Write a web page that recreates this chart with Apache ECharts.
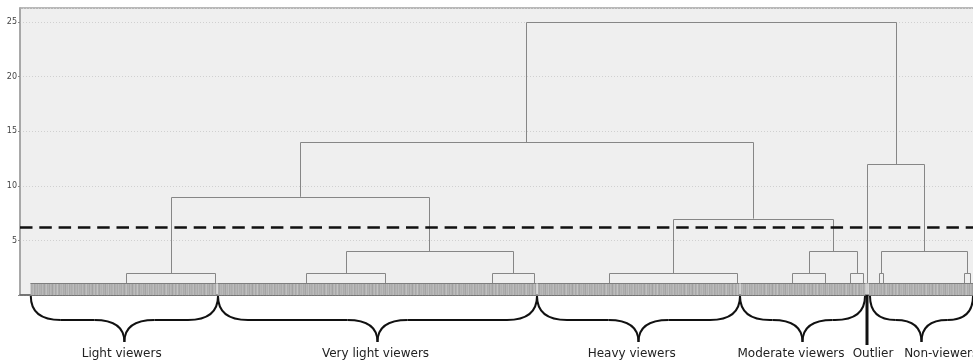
<!DOCTYPE html>
<html><head><meta charset="utf-8">
<script src="https://cdn.jsdelivr.net/npm/echarts@6/dist/echarts.min.js"></script>
<style>html,body{margin:0;padding:0;background:#fff}#c{width:973px;height:364px}</style>
</head><body><div id="c"></div>
<script>
// ---- DATA (x in leaf-order units, y = linkage distance) ----
// base cluster nodes at the bottom of the tree
const leafNodeX = [48, 92.5, 138, 177.5, 231, 252, 289.5, 353.5, 381, 397.5, 410, 416.5, 418.5, 424.5, 426.5, 467, 470];
const leafNodeHeight = 1.1;
// merges: ids 0..16 are base nodes, merge i creates node 17+i
const mergeLeft   = [0, 2, 4, 18, 17, 6, 8, 10, 23, 22, 21, 13, 15, 28, 12, 27];
const mergeRight  = [1, 3, 5, 19, 20, 7, 9, 11, 24, 25, 26, 14, 16, 29, 30, 31];
const mergeHeight = [2, 2, 2, 4, 9, 2, 2, 2, 4, 7, 14, 2, 2, 4, 12, 25];
// leaf band segments
const bandStart = [0, 93.5, 253.5, 355, 418, 419];
const bandEnd   = [93.5, 253.5, 355, 418, 419, 474];
// cluster annotations
const clusterNames = ['Light viewers', 'Very light viewers', 'Heavy viewers', 'Moderate viewers', 'Outlier', 'Non-viewers'];
const labelX = [45.85, 172.75, 300.85, 380.5, 421.5, 455.6];
const braceStart = [0.4, 94, 253.5, 355, 420];
const braceEnd   = [94, 253.5, 355, 417.5, 471.5];
const outlierX = [418.5];
const yTickValues = [5, 10, 15, 20, 25];
const cutHeight = 6.2;

// ---- build tree links ----
const nodeX = leafNodeX.slice();
const nodeH = leafNodeX.map(() => leafNodeHeight);
const links = [];
mergeLeft.forEach((l, i) => {
  const r = mergeRight[i];
  links.push([nodeX[l], nodeX[r], mergeHeight[i], nodeH[l], nodeH[r]]);
  nodeX.push((nodeX[l] + nodeX[r]) / 2);
  nodeH.push(mergeHeight[i]);
});

// texture for leaf band
const tex = document.createElement('canvas');
tex.width = 40; tex.height = 4;
const tctx = tex.getContext('2d');
const shades = [178,170,186,174,164,182,192,172,180,166,184,176,162,180,188,168,178,194,172,166,182,176,186,170,178,164,184,174,190,168,180,172,178,188,166,176,182,170,186,174];
shades.forEach((s, i) => { tctx.fillStyle = 'rgb(' + s + ',' + s + ',' + s + ')'; tctx.fillRect(i, 0, 1, 4); });

const snap = v => Math.round(v) + 0.5;
const FONT = '"DejaVu Sans", sans-serif';

const chart = echarts.init(document.getElementById('c'), null, {renderer: 'canvas'});
chart.setOption({
  animation: false,
  grid: {left: 20, top: 8, right: -3, bottom: 69, containLabel: false, outerBoundsMode: 'none',
         show: true, backgroundColor: '#efefef', borderColor: '#a3a3a3', borderWidth: 1.5},
  xAxis: {type: 'value', min: -5, max: 473, axisLabel: {show: false}, axisTick: {show: false}, splitLine: {show: false},
          axisLine: {show: true, onZero: false, lineStyle: {color: '#5f5f5f', width: 1.5}}},
  yAxis: {type: 'value', min: 0, max: 26.3, interval: 5,
          axisLine: {show: true, onZero: false, lineStyle: {color: '#a3a3a3', width: 1.5}},
          axisTick: {show: true, length: 2, lineStyle: {color: '#888'}},
          axisLabel: {fontSize: 8, color: '#444', margin: 3, fontFamily: FONT, showMaxLabel: false,
                      formatter: v => yTickValues.indexOf(v) >= 0 ? String(v) : ''},
          splitLine: {show: true, lineStyle: {color: '#d0d0d0', type: [1, 2], width: 1}}},
  series: [
    { // leaf band
      type: 'custom', silent: true, z: 2,
      data: bandStart.map((s, i) => [s, bandEnd[i], leafNodeHeight]),
      encode: {x: [0, 1], y: 2},
      renderItem: (p, api) => {
        const a = api.coord([api.value(0), api.value(2)]);
        const b = api.coord([api.value(1), 0]);
        const x0 = Math.round(a[0]) + 0.5, x1 = Math.round(b[0]) - 0.5;
        const yt = Math.round(a[1]);
        return {type: 'group', children: [
          {type: 'rect', shape: {x: x0, y: yt, width: x1 - x0, height: b[1] - yt}, style: {fill: {type: 'pattern', image: tex, repeat: 'repeat'}}},
          {type: 'line', shape: {x1: x0, y1: yt + 0.5, x2: x1, y2: yt + 0.5}, style: {stroke: '#7e7e7e', lineWidth: 1}}
        ]};
      }
    },
    { // dendrogram links
      type: 'custom', silent: true, z: 3,
      data: links,
      encode: {x: [0, 1], y: [2, 3, 4]},
      renderItem: (p, api) => {
        const a = api.coord([api.value(0), api.value(3)]);
        const b = api.coord([api.value(0), api.value(2)]);
        const c = api.coord([api.value(1), api.value(2)]);
        const d = api.coord([api.value(1), api.value(4)]);
        return {type: 'polyline', shape: {points: [[snap(a[0]), a[1]], [snap(b[0]), snap(b[1])], [snap(c[0]), snap(c[1])], [snap(d[0]), d[1]]]},
                style: {stroke: '#868686', lineWidth: 1, fill: null}};
      },
      markLine: {silent: true, symbol: 'none', label: {show: false}, z: 5,
                 lineStyle: {color: '#111', width: 2.5, type: [12.5, 6.8]},
                 data: [{yAxis: cutHeight}]}
    },
    { // braces
      type: 'custom', silent: true, clip: false, z: 4,
      data: braceStart.map((s, i) => [s, braceEnd[i]]),
      encode: {x: [0, 1]},
      renderItem: (p, api) => {
        const a = api.coord([api.value(0), 0]);
        const b = api.coord([api.value(1), 0]);
        const y0 = a[1] + 1, ym = y0 + 24, yt = y0 + 46;
        const x1 = a[0], x2 = b[0], xm = (x1 + x2) / 2;
        const half = (x2 - x1) / 2;
        const r1 = Math.min(30, half * 0.5), r2 = Math.min(30, half * 0.5);
        const st = {stroke: '#111', lineWidth: 2, fill: null};
        return {type: 'group', children: [
          {type: 'bezierCurve', shape: {x1: x1, y1: y0, cpx1: x1, cpy1: ym, x2: x1 + r1, y2: ym}, style: st},
          {type: 'line', shape: {x1: x1 + r1, y1: ym, x2: xm - r2, y2: ym}, style: st},
          {type: 'bezierCurve', shape: {x1: xm - r2, y1: ym, cpx1: xm, cpy1: ym, x2: xm, y2: yt}, style: st},
          {type: 'bezierCurve', shape: {x1: xm, y1: yt, cpx1: xm, cpy1: ym, x2: xm + r2, y2: ym}, style: st},
          {type: 'line', shape: {x1: xm + r2, y1: ym, x2: x2 - r1, y2: ym}, style: st},
          {type: 'bezierCurve', shape: {x1: x2 - r1, y1: ym, cpx1: x2, cpy1: ym, x2: x2, y2: y0}, style: st}
        ]};
      }
    },
    { // outlier marker
      type: 'custom', silent: true, clip: false, z: 4,
      data: outlierX.map(x => [x]),
      encode: {x: 0},
      renderItem: (p, api) => {
        const a = api.coord([api.value(0), 0]);
        return {type: 'line', shape: {x1: a[0], y1: a[1], x2: a[0], y2: a[1] + 50}, style: {stroke: '#111', lineWidth: 3}};
      }
    },
    { // cluster labels
      type: 'custom', silent: true, clip: false, z: 4,
      data: labelX.map(x => [x]),
      encode: {x: 0},
      renderItem: (p, api) => {
        const a = api.coord([api.value(0), 0]);
        return {type: 'text', style: {text: clusterNames[p.dataIndex], x: a[0], y: a[1] + 59,
                align: 'center', verticalAlign: 'middle', font: '12px ' + FONT, fill: '#222'}};
      }
    }
  ]
});
</script></body></html>
